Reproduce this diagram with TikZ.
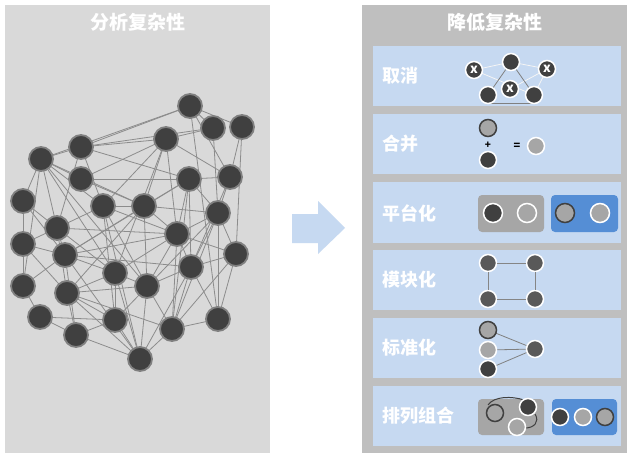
\documentclass[tikz,border=0pt]{standalone}
\usepackage{fontspec}
\newfontfamily\cjk{Noto Sans CJK SC}
\definecolor{panelL}{HTML}{D9D9D9}
\definecolor{panelR}{HTML}{BFBFBF}
\definecolor{rowbg}{HTML}{C6D9F1}
\definecolor{dk}{HTML}{404040}
\definecolor{md}{HTML}{595959}
\definecolor{gy}{HTML}{A6A6A6}
\definecolor{nb}{HTML}{808080}
\definecolor{edg}{HTML}{8C8C8C}
\definecolor{blu}{HTML}{558ED5}
\definecolor{arr}{HTML}{C6D9F1}
\begin{document}
\begin{tikzpicture}[x=1pt,y=-1pt,
  net/.style={circle,fill=dk,draw=nb,line width=1.8pt,minimum size=24pt,inner sep=0pt},
  edge/.style={draw=edg,line width=0.8pt},
  ttl/.style={text=white,font=\cjk\bfseries\fontsize{19}{19}\selectfont},
  lbl/.style={text=white,font=\cjk\bfseries\fontsize{18}{18}\selectfont,anchor=west},
  sd/.style={circle,fill=dk,draw=white,line width=1.5pt,minimum size=17pt,inner sep=0pt},
  sm/.style={circle,fill=md,draw=white,line width=1.5pt,minimum size=17pt,inner sep=0pt},
  sgw/.style={circle,fill=gy,draw=white,line width=1.5pt,minimum size=17pt,inner sep=0pt},
  sgd/.style={circle,fill=gy,draw=dk,line width=1.5pt,minimum size=17pt,inner sep=0pt},
  sline/.style={draw=gy!80!black,line width=0.8pt},
  wline/.style={draw=white!92!gray,line width=0.8pt},
  rowbox/.style={fill=rowbg}
]
\path[use as bounding box,fill=white] (0,0) rectangle (635,460);
% panels
\fill[panelL] (5,5) rectangle (270,453);
\fill[panelR] (362,5) rectangle (627,453);
\node[ttl] (tl) at (137.5,22) {分析复杂性};
\node[ttl] (tr) at (495,22) {降低复杂性};
% arrow
\fill[arr] (292,214) -- (318,214) -- (318,201) -- (345,228) -- (318,254) -- (318,243) -- (292,243) -- cycle;
% network nodes
\foreach \n/\x/\y in {A/190/106,B/213/128,C/242/127,D/166/139,E/81/147,F/41/159,G/81/179,H/189/179,I/230/177,J/23/201,K/103/206,L/144/206,M/218/213,N/57/228,O/177/234,P/23/244,Q/65/255,R/236/254,S/191/267,T/115/273,U/147/286,V/23/286,W/67/293,X/40/317,Y/115/320,Z/218/319,AA/76/335,AB/172/329,AC/140/359}
  \coordinate (c\n) at (\x,\y);
\foreach \a/\b in {A/F,A/E,A/B,A/C,A/Z,A/I,B/D,B/M,C/I,C/R,
  D/E,D/G,D/K,D/L,D/I,D/O,D/T,E/F,E/K,E/H,E/N,E/B,
  F/J,F/V,F/G,F/K,F/L,F/T,F/U,F/N,G/H,G/L,
  H/I,H/L,H/M,H/O,H/S,H/Q,H/AB,I/M,I/S,
  J/P,J/N,J/Q,K/L,K/N,K/O,K/U,K/Y,K/AC,
  L/M,L/O,L/Q,L/U,L/W,M/O,M/R,M/S,M/Y,M/AB,M/Z,
  N/P,N/Q,N/O,N/W,N/T,O/Q,O/R,O/S,O/U,O/T,O/AB,
  P/V,P/Q,P/W,Q/S,Q/T,Q/AA,Q/V,Q/AC,R/S,R/Z,R/AB,
  S/U,S/AB,S/Z,S/AC,T/U,T/W,T/Y,T/AC,U/AB,U/AC,U/W,
  V/X,W/Y,W/AB,W/AC,W/AA,X/Y,X/AA,Y/AA,Y/AC,Z/AB,AB/AC,AA/AC}
  \draw[edge] (c\a) -- (c\b);
\foreach \n in {A,B,C,D,E,F,G,H,I,J,K,L,M,N,O,P,Q,R,S,T,U,V,W,X,Y,Z,AA,AB,AC}
  \node[net] (n\n) at (c\n) {};
% rows
\fill[rowbox] (373,46) rectangle (621,106);
\fill[rowbox] (373,114) rectangle (621,174);
\fill[rowbox] (373,182) rectangle (621,243);
\fill[rowbox] (373,250) rectangle (621,310);
\fill[rowbox] (373,318) rectangle (621,378);
\fill[rowbox] (373,386) rectangle (621,446);
\node[lbl] (l1) at (379,76) {取消};
\node[lbl] (l2) at (379,144) {合并};
\node[lbl] (l3) at (379,213) {平台化};
\node[lbl] (l4) at (379,280) {模块化};
\node[lbl] (l5) at (379,348) {标准化};
\node[lbl] (l6) at (379,416) {排列组合};
% row 1
\coordinate (p1) at (474,70);
\coordinate (p2) at (511,62);
\coordinate (p3) at (547,69);
\coordinate (p4) at (510,89);
\coordinate (p5) at (488,95);
\coordinate (p6) at (534,95);
\draw[wline] (p1) -- (p2);
\draw[wline] (p2) -- (p3);
\draw[wline] (p1) -- (p6);
\draw[wline] (p3) -- (p4);
\draw[wline] (p3) -- (p6);
\draw[sline,draw=gray] (p2) -- (p5);
\draw[sline,draw=gray] (p2) -- (p6);
\draw[draw=gray,line width=1pt] (488,103.5) -- (534,103.5);
\foreach \c/\t in {1/x,2/,3/x,4/x,5/,6/}
  \node[sd,text=white,font=\cjk\bfseries\fontsize{13}{13}\selectfont] (q\c) at (p\c) {\raisebox{0.5pt}{\t}};
% row 2
\node[sgd] (m1) at (488,128) {};
\node[font=\cjk\bfseries\fontsize{10}{10}\selectfont] (mplus) at (488,145) {+};
\node[sd] (m2) at (488,160) {};
\node[font=\cjk\bfseries\fontsize{11}{11}\selectfont] (meq) at (517,146) {=};
\node[sgw] (m3) at (536,146) {};
% row 3
\fill[gy,rounded corners=4pt] (478,195) rectangle (544,232);
\fill[blu,rounded corners=4pt] (551,195) rectangle (618,232);
\node[sd,minimum size=19pt] (r1) at (493,213) {};
\node[sgw,minimum size=19pt] (r2) at (527,213) {};
\node[sgd,minimum size=19pt] (r3) at (565,213) {};
\node[sgw,minimum size=19pt] (r4) at (600,213) {};
% row 4
\node[sm] (s1) at (488,263) {};
\node[sm] (s2) at (535,263) {};
\node[sm] (s3) at (488,299) {};
\node[sm] (s4) at (535,299) {};
\draw[sline] (s1) -- (s2);
\draw[sline] (s2) -- (s4);
\draw[sline] (s4) -- (s3);
\draw[sline] (s3) -- (s1);
% row 5
\coordinate (t1c) at (488,330);
\coordinate (t2c) at (488,350);
\coordinate (t3c) at (488,369);
\coordinate (t4c) at (535,349);
\draw[sline,draw=gray] (t1c) -- (t4c);
\draw[sline,draw=gray] (t2c) -- (t4c);
\draw[sline,draw=gray] (t3c) -- (t4c);
\node[sgd] (t1) at (t1c) {};
\node[sgw] (t2) at (t2c) {};
\node[sd] (t3) at (t3c) {};
\node[sm] (t4) at (t4c) {};
% row 6
\fill[gy,rounded corners=4pt] (478,399) rectangle (544,435);
\fill[blu,rounded corners=4pt] (552,399) rectangle (617,435);
\node[sgd] (u1) at (495,413) {};
\draw[draw=dk,line width=1pt] (488,405) .. controls (494,396) and (512,396) .. (524,400);
\node[sd] (u2) at (528,407) {};
\draw[draw=dk,line width=1pt] (535,414) .. controls (540,422) and (534,428) .. (525,428);
\node[sgw] (u3) at (517,427) {};
\node[sd] (v1) at (560,417) {};
\node[sgw] (v2) at (583,417) {};
\node[sgd] (v3) at (605,417) {};
\end{tikzpicture}
\end{document}
